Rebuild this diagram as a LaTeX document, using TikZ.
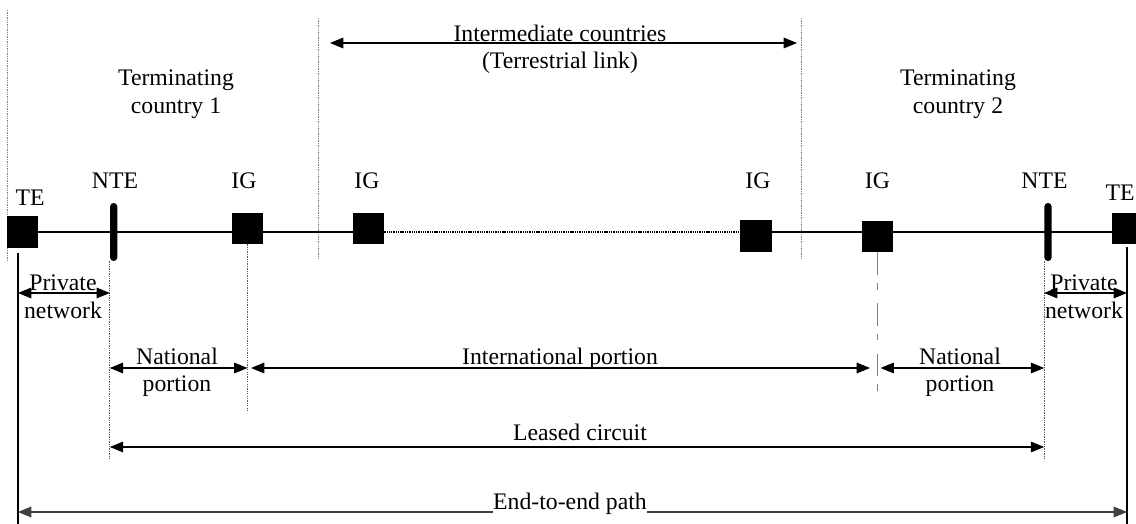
\documentclass[tikz,border=0pt]{standalone}
\usepackage{fontspec}
\setmainfont{Liberation Serif}
\usetikzlibrary{arrows.meta}

\tikzset{
  lbl/.style={font=\fontsize{17.8}{20.3}\selectfont, align=center, inner sep=0.75pt, anchor=north},
  blk/.style={fill=black, minimum size=23.3pt, inner sep=0pt},
  ntebar/.style={fill=black, rounded corners=2.6pt, minimum width=5.4pt, minimum height=43.5pt, inner sep=0pt},
  border/.style={draw=gray, line width=0.6pt, dash pattern=on 1pt off 0.8pt},
  drop/.style={draw=gray!70!black, line width=0.7pt, dash pattern=on 1pt off 0.8pt},
  span/.style={line width=0.8pt, {Triangle[length=10pt,width=8pt]}-{Triangle[length=10pt,width=8pt]}},
}

\begin{document}
\begin{tikzpicture}[x=0.75pt,y=0.75pt,yscale=-1,xscale=1]
\useasboundingbox (0,0) rectangle (1136,524);
% levels
\coordinate (yTop) at (0,43);
\coordinate (yPriv) at (0,293);
\coordinate (yNat) at (0,368);
\coordinate (yLease) at (0,447);
\coordinate (yEnd) at (0,512);
% country borders
\draw[border] (7,10) -- (7,260);
\draw[border] (318,18) -- (318,260);
\draw[border] (801,18) -- (801,260);
% equipment
\node[blk] (te1) at (22.5,232) {};
\node[ntebar] (nte1) at (113.7,232) {};
\node[blk] (ig1) at (247.5,228.5) {};
\node[blk] (ig2) at (368.5,228.5) {};
\node[blk] (ig3) at (756,236) {};
\node[blk] (ig4) at (877.5,236.5) {};
\node[ntebar] (nte2) at (1048,232) {};
\node[blk] (te2) at (1127.5,228.5) {};
% circuit
\draw[line width=1.1pt] (te1.east) -- (ig2.west |- te1.east);
\draw[line width=0.9pt, dash pattern=on 1pt off 0.7pt] (ig2.east |- te1.east) -- (ig3.west |- te1.east);
\draw[line width=1.1pt] (ig3.east |- te1.east) -- (te2.west |- te1.east);
% labels
\node[lbl] (te1l) at (30,189) {TE};
\node[lbl] (nte1l) at (115,172) {NTE};
\node[lbl] (ig1l) at (244,172) {IG};
\node[lbl] (ig2l) at (367,172) {IG};
\node[lbl] (ig3l) at (758,172) {IG};
\node[lbl] (ig4l) at (877.5,172) {IG};
\node[lbl] (nte2l) at (1044.5,172) {NTE};
\node[lbl] (te2l) at (1120,184) {TE};
\node[lbl] (ctry1) at (176,69) {Terminating\\country 1};
\node[lbl] (ctry2) at (958,69) {Terminating\\country 2};
\node[lbl] (inter) at (560,24) {Intermediate countries\\(Terrestrial link)};
% drop lines
\coordinate (endL) at (18,524);
\coordinate (endR) at (1127,524);
\draw[line width=0.8pt] (18,253) -- (endL);
\draw[line width=0.8pt] (1127,247) -- (endR);
\draw[drop] (nte1.south west) -- (nte1.south west |- 0,460);
\draw[drop] (nte2.south west) -- (nte2.south west |- 0,460);
\draw[drop] (ig1.south) -- (ig1.south |- 0,410);
\draw[draw=gray, line width=0.9pt, dash pattern=on 17pt off 6pt on 5pt off 10pt] (ig4.south) -- (ig4.south |- 0,399);
% spans
\draw[span] (330,43) -- (797,43);
\draw[span] (endL |- yPriv) -- (nte1.south west |- yPriv);
\draw[span] (nte2.south west |- yPriv) -- (endR |- yPriv);
\draw[span] (nte1.south west |- yNat) -- (ig1.south |- yNat);
\draw[span] (251,368) -- (870,368);
\draw[span] (ig4.south |- yNat) ++(3,0) -- (nte2.south west |- yNat);
\draw[span] (nte1.south west |- yLease) -- (nte2.south west |- yLease);
\draw[span, draw=black!75] (endL |- yEnd) -- (endR |- yEnd);
% span texts
\node[lbl] (priv1) at (63,274) {Private\\network};
\node[lbl] (priv2) at (1084,274) {Private\\network};
\node[lbl] (nat1) at (177,347) {National\\portion};
\node[lbl] (nat2) at (960,347) {National\\portion};
\node[lbl] (intl) at (560,347) {International portion};
\node[lbl] (lease) at (580,423) {Leased circuit};
\node[lbl, anchor=base, fill=white, inner xsep=0.5pt] (e2e) at (570,509) {End-to-end path};
\end{tikzpicture}
\end{document}
